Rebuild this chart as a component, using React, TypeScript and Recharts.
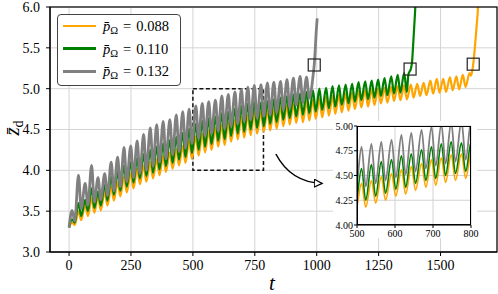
import React from "react";
import {
  ComposedChart,
  Line,
  XAxis,
  YAxis,
  CartesianGrid,
  ReferenceArea,
  Scatter,
} from "recharts";

// times of the oscillation maxima / minima (shared by all three runs, phase-locked)
const peakT = [
  12, 38, 65, 91, 117, 144, 170, 196, 222, 249, 275, 301, 328, 354, 380, 407,
  433, 459, 485, 512, 538, 564, 591, 617, 643, 670, 696, 722, 748, 775, 801,
  827, 854, 880, 906, 933, 959, 985, 1011, 1038, 1064, 1090, 1117, 1143, 1169,
  1196, 1222, 1248, 1274, 1301, 1327, 1353, 1380, 1406, 1432, 1459, 1485, 1511,
  1538, 1564, 1590, 1617,
];
const troughT = [
  23, 49, 76, 102, 128, 155, 181, 207, 233, 260, 286, 312, 339, 365, 391, 418,
  444, 470, 496, 523, 549, 575, 602, 628, 654, 681, 707, 733, 759, 786, 812,
  838, 865, 891, 917, 944, 970, 996, 1022, 1049, 1075, 1101, 1128, 1154, 1180,
  1207, 1233, 1259, 1285, 1312, 1338, 1364, 1391, 1417, 1443, 1470, 1496, 1522,
  1549, 1575, 1601,
];

// p = 0.088 (orange)
const orangePeaks = [
  3.36, 3.5, 3.58, 3.66, 3.68, 3.74, 3.8, 3.86, 3.92, 3.97,
  4.02, 4.06, 4.1, 4.14, 4.18, 4.22, 4.26, 4.3, 4.36, 4.42,
  4.45, 4.49, 4.52, 4.56, 4.59, 4.62, 4.66, 4.68, 4.71, 4.72,
  4.74, 4.76, 4.78, 4.8, 4.82, 4.84, 4.85, 4.87, 4.88, 4.9,
  4.91, 4.93, 4.94, 4.95, 4.97, 4.98, 4.99, 5.0, 5.01, 5.02,
  5.03, 5.04, 5.05, 5.06, 5.07, 5.1, 5.12, 5.12, 5.14, 5.15,
  5.17, 5.19,
];
const orangeTroughs = [
  3.33, 3.39, 3.44, 3.48, 3.51, 3.57, 3.63, 3.68, 3.73, 3.78,
  3.83, 3.86, 3.9, 3.94, 3.98, 4.02, 4.06, 4.09, 4.14, 4.18,
  4.22, 4.25, 4.29, 4.31, 4.35, 4.38, 4.4, 4.43, 4.45, 4.47,
  4.49, 4.51, 4.54, 4.56, 4.58, 4.59, 4.61, 4.63, 4.65, 4.67,
  4.69, 4.71, 4.73, 4.75, 4.77, 4.78, 4.8, 4.82, 4.83, 4.85,
  4.86, 4.87, 4.89, 4.91, 4.92, 4.94, 4.95, 4.96, 4.98, 4.99,
  5.02,
];
const orangeTailT = [1623, 1628, 1632, 1638, 1645, 1651, 1657];
const orangeTailZ = [5.16, 5.22, 5.3, 5.48, 5.74, 5.97, 6.3];

// p = 0.110 (green)
const greenPeaks = [
  3.4, 3.6, 3.64, 3.78, 3.74, 3.82, 3.92, 3.98, 4.06, 4.1,
  4.15, 4.2, 4.25, 4.29, 4.33, 4.37, 4.41, 4.46, 4.51, 4.57,
  4.61, 4.64, 4.66, 4.7, 4.72, 4.76, 4.79, 4.82, 4.84, 4.83,
  4.85, 4.87, 4.89, 4.91, 4.93, 4.94, 4.96, 4.98, 5.0, 5.01,
  5.03, 5.04, 5.05, 5.06, 5.08, 5.09, 5.1, 5.11, 5.13, 5.15,
  5.17, 5.19,
];
const greenTroughs = [
  3.36, 3.44, 3.5, 3.54, 3.57, 3.63, 3.7, 3.75, 3.8, 3.85,
  3.9, 3.93, 3.97, 4.01, 4.05, 4.09, 4.13, 4.16, 4.21, 4.25,
  4.29, 4.32, 4.36, 4.38, 4.42, 4.45, 4.47, 4.5, 4.52, 4.54,
  4.57, 4.59, 4.62, 4.64, 4.66, 4.68, 4.7, 4.72, 4.74, 4.76,
  4.78, 4.8, 4.82, 4.84, 4.86, 4.87, 4.89, 4.91, 4.92, 4.94,
  4.95,
];
const greenTailT = [1364, 1370, 1375, 1380, 1385, 1391, 1397, 1403];
const greenTailZ = [4.96, 5.17, 5.21, 5.24, 5.33, 5.62, 5.93, 6.3];

// p = 0.132 (gray)
const grayPeaks = [
  3.51, 3.94, 3.84, 4.06, 3.91, 3.96, 4.1, 4.16, 4.28, 4.3,
  4.36, 4.44, 4.52, 4.56, 4.6, 4.62, 4.68, 4.72, 4.75, 4.79,
  4.82, 4.84, 4.86, 4.91, 4.93, 4.96, 4.99, 5.02, 5.04, 5.05,
  5.07, 5.08, 5.09, 5.11, 5.13, 5.15, 5.14,
];
const grayTroughs = [
  3.38, 3.53, 3.57, 3.61, 3.64, 3.69, 3.75, 3.8, 3.86, 3.91,
  3.96, 4.0, 4.05, 4.1, 4.14, 4.19, 4.23, 4.27, 4.33, 4.39,
  4.42, 4.45, 4.48, 4.51, 4.54, 4.57, 4.6, 4.62, 4.64, 4.66,
  4.68, 4.71, 4.74, 4.77, 4.8, 4.83, 4.88,
];
const grayTailT = [980, 986, 990, 994, 998, 1002];
const grayTailZ = [5.02, 5.18, 5.29, 5.48, 5.7, 5.86];

const startT = 0;
const startZ = 3.3;

// end-of-run markers
const squareT = [990, 1377, 1632];
const squareZ = [5.29, 5.24, 5.3];

const xTicks = [0, 250, 500, 750, 1000, 1250, 1500];
const yTicks = [3, 3.5, 4, 4.5, 5, 5.5, 6];
const insetXTicks = [500, 600, 700, 800];
const insetYTicks = [4, 4.25, 4.5, 4.75, 5];

const X_DOMAIN = [-77, 1728];
const Y_DOMAIN = [3, 6];
const PLOT = { left: 50, top: 7, width: 447, height: 245 };

type Pt = { t: number; z: number };

function weave(peaks: number[], troughs: number[], tailT: number[], tailZ: number[]): Pt[] {
  const pts: Pt[] = [{ t: startT, z: startZ }];
  peaks.forEach((p, i) => {
    pts.push({ t: peakT[i], z: p });
    if (i < troughs.length) pts.push({ t: troughT[i], z: troughs[i] });
  });
  tailT.forEach((t, i) => pts.push({ t, z: tailZ[i] }));
  return pts;
}

const SERIES = [
  { label: "0.088", color: "#ffa500", width: 2.2, insetWidth: 1.6, legendH: 2.2,
    data: weave(orangePeaks, orangeTroughs, orangeTailT, orangeTailZ) },
  { label: "0.110", color: "#008000", width: 2.2, insetWidth: 1.6, legendH: 2.2,
    data: weave(greenPeaks, greenTroughs, greenTailT, greenTailZ) },
  { label: "0.132", color: "#808080", width: 2.8, insetWidth: 1.8, legendH: 3.3,
    data: weave(grayPeaks, grayTroughs, grayTailT, grayTailZ) },
];

const squares = squareT.map((t, i) => ({ t, z: squareZ[i] }));

// data -> pixel for the annotation arrow (same mapping as the main axes)
const px = (t: number) => PLOT.left + ((t - X_DOMAIN[0]) / (X_DOMAIN[1] - X_DOMAIN[0])) * PLOT.width;
const py = (z: number) => PLOT.top + ((Y_DOMAIN[1] - z) / (Y_DOMAIN[1] - Y_DOMAIN[0])) * PLOT.height;

const FONT = "Liberation Serif";
const tickStyle = { fontSize: 14, fill: "#000", fontFamily: FONT };
const insetTick = { fontSize: 10, fill: "#000", fontFamily: FONT };

const SquareMark = (p: any) => (
  <rect x={p.cx - 6} y={p.cy - 6} width={12} height={12} fill="none" stroke="#222" strokeWidth={1.2} />
);

function Inset() {
  return (
    <div style={{ position: "absolute", left: 333, top: 121, width: 144, height: 117, background: "#fff" }}>
      <ComposedChart width={150} height={117} margin={{ top: 5, right: 12, bottom: 2, left: 0 }}>
        <CartesianGrid stroke="#d2d2d2" strokeWidth={1} />
        <XAxis
          type="number"
          dataKey="t"
          domain={[500, 800]}
          ticks={insetXTicks}
          allowDataOverflow
          interval={0}
          height={11}
          tick={insetTick}
          tickSize={3}
          tickMargin={2}
          axisLine={{ stroke: "#000" }}
          tickLine={{ stroke: "#000" }}
        />
        <YAxis
          type="number"
          dataKey="z"
          domain={[4, 5]}
          ticks={insetYTicks}
          allowDataOverflow
          interval={0}
          width={24}
          tick={insetTick}
          tickSize={3}
          tickMargin={1}
          tickFormatter={(v) => v.toFixed(2)}
          axisLine={{ stroke: "#000" }}
          tickLine={{ stroke: "#000" }}
        />
        {SERIES.map((s) => (
          <Line
            key={s.label}
            data={s.data}
            dataKey="z"
            type="monotone"
            stroke={s.color}
            strokeWidth={s.insetWidth}
            dot={false}
            isAnimationActive={false}
          />
        ))}
      </ComposedChart>
      <div style={{ position: "absolute", left: 24, top: 5, width: 114, height: 99, border: "1px solid #000", boxSizing: "border-box" }} />
    </div>
  );
}

export default function App() {
  const a0 = { x: px(835), y: py(4.2) };
  const a1 = { x: px(1022), y: py(3.84) };
  const ctrl = { x: a0.x + 15, y: a1.y - 1 };

  return (
    <div style={{ position: "fixed", left: 0, top: 0, width: 498, height: 294, background: "#fff", fontFamily: FONT }}>
      <ComposedChart width={498} height={294} margin={{ top: PLOT.top, right: 1, bottom: 12, left: 0 }}>
        <CartesianGrid stroke="#d4d4d4" strokeWidth={1} />
        <XAxis
          type="number"
          dataKey="t"
          domain={X_DOMAIN}
          ticks={xTicks}
          allowDataOverflow
          interval={0}
          height={30}
          tick={tickStyle}
          tickSize={4}
          tickMargin={4}
          axisLine={{ stroke: "#000" }}
          tickLine={{ stroke: "#000" }}
        />
        <YAxis
          type="number"
          dataKey="z"
          domain={Y_DOMAIN}
          ticks={yTicks}
          allowDataOverflow
          interval={0}
          width={50}
          tick={tickStyle}
          tickSize={4}
          tickMargin={6}
          tickFormatter={(v) => v.toFixed(1)}
          axisLine={{ stroke: "#000" }}
          tickLine={{ stroke: "#000" }}
        />
        {SERIES.map((s) => (
          <Line
            key={s.label}
            data={s.data}
            dataKey="z"
            type="monotone"
            stroke={s.color}
            strokeWidth={s.width}
            dot={false}
            isAnimationActive={false}
          />
        ))}
        <ReferenceArea x1={500} x2={785} y1={4} y2={5} fill="none" stroke="#111" strokeWidth={1.5} strokeDasharray="4 2.5" />
        <Scatter data={squares} dataKey="z" shape={SquareMark} isAnimationActive={false} />
      </ComposedChart>

      {/* frame + axis labels + zoom arrow */}
      <svg width={498} height={294} style={{ position: "absolute", left: 0, top: 0, pointerEvents: "none" }}>
        <defs>
          <marker id="ah" markerWidth={10} markerHeight={9} refX={8.5} refY={4.5} orient="auto" markerUnits="userSpaceOnUse">
            <path d="M0.6,0.6 L8.5,4.5 L0.6,8.4 Z" fill="#fff" stroke="#000" strokeWidth={1.2} />
          </marker>
        </defs>
        <rect x={PLOT.left} y={PLOT.top} width={PLOT.width} height={PLOT.height} fill="none" stroke="#000" strokeWidth={1.2} />
        <path
          d={`M${a0.x},${a0.y} Q${ctrl.x},${ctrl.y} ${a1.x},${a1.y}`}
          fill="none"
          stroke="#000"
          strokeWidth={1.5}
          markerEnd="url(#ah)"
        />
        <text transform="translate(19,128) rotate(-90)" textAnchor="middle" fontFamily={FONT} fontSize={21}>
          <tspan fontStyle="italic">{"z\u0304"}</tspan>
          <tspan fontSize={14} dy={4}>d</tspan>
        </text>
        <text x={272} y={290} textAnchor="middle" fontFamily={FONT} fontSize={21} fontStyle="italic">t</text>
      </svg>

      {/* legend */}
      <div style={{ position: "absolute", left: 57, top: 14, width: 124, height: 72, background: "#fff", border: "1px solid #444", borderRadius: 4, boxSizing: "border-box" }}>
        {SERIES.map((s, i) => (
          <div key={s.label} style={{ position: "absolute", left: 0, top: i * 22.6, width: "100%", height: 22 }}>
            <div style={{ position: "absolute", left: 5, top: 11 - s.legendH / 2, width: 33, height: s.legendH, background: s.color }} />
            <div style={{ position: "absolute", left: 45, top: 0, lineHeight: "22px", fontSize: 14.5, whiteSpace: "nowrap", color: "#000" }}>
              <i>{"p\u0304"}</i>
              <span style={{ fontSize: 10.5, position: "relative", top: 3 }}>Ω</span>
              <span style={{ margin: "0 5px" }}>=</span>
              {s.label}
            </div>
          </div>
        ))}
      </div>

      <Inset />
    </div>
  );
}
